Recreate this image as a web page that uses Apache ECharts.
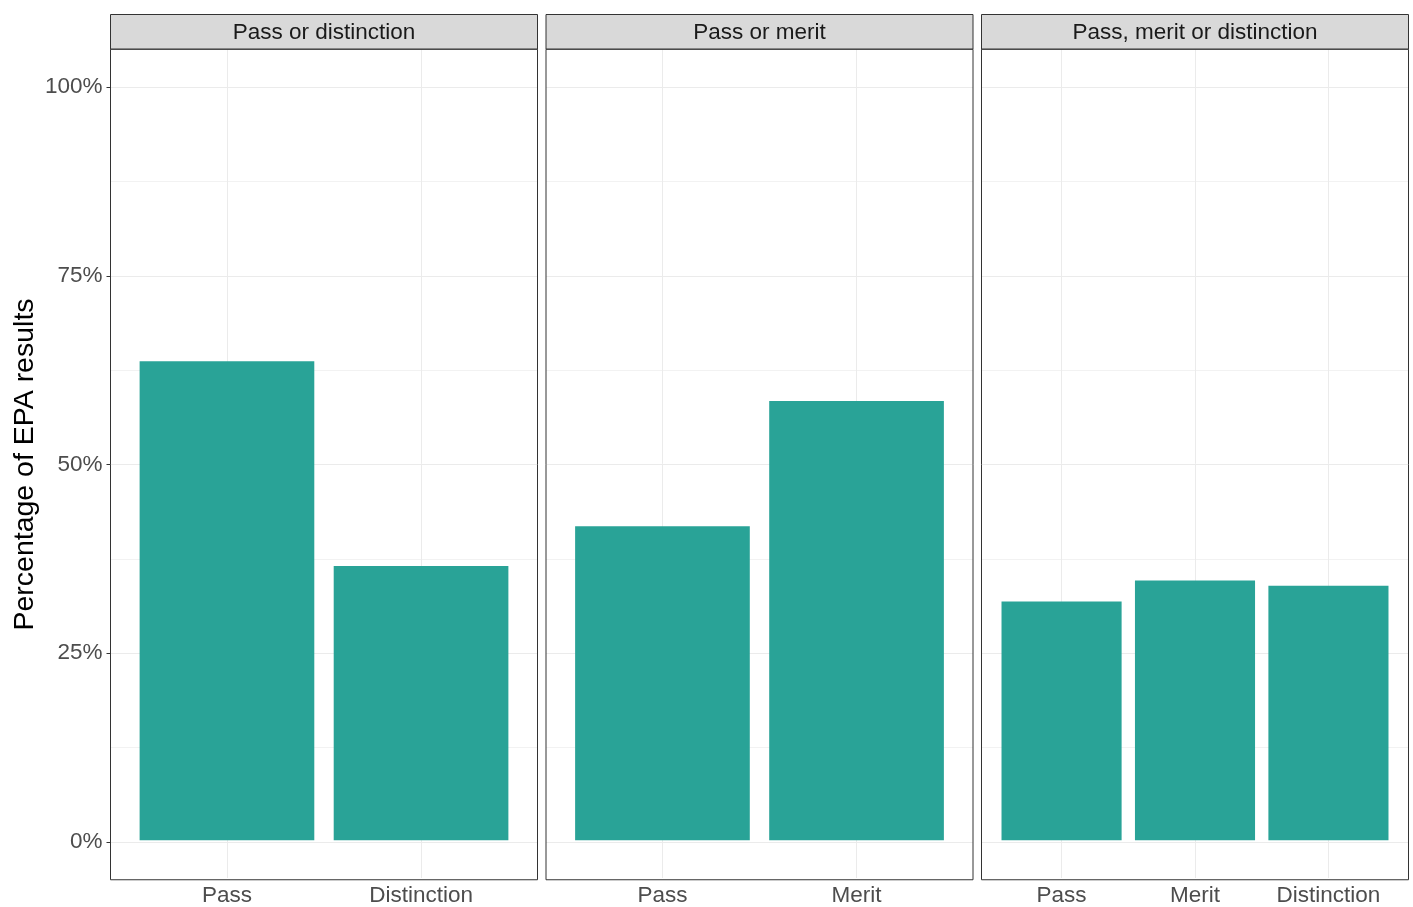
<!DOCTYPE html>
<html><head><meta charset="utf-8">
<script src="https://cdn.jsdelivr.net/npm/echarts@6/dist/echarts.min.js"></script>
<style>html,body{margin:0;padding:0;background:#fff}#c{width:1413px;height:907px}</style>
</head><body><div id="c"></div>
<script>
// ---- data ----
const facetTitles = ['Pass or distinction', 'Pass or merit', 'Pass, merit or distinction'];
const categoriesPD = ['Pass', 'Distinction'];
const valuesPD = [63.6, 36.4];
const categoriesPM = ['Pass', 'Merit'];
const valuesPM = [41.7, 58.3];
const categoriesPMD = ['Pass', 'Merit', 'Distinction'];
const valuesPMD = [31.7, 34.5, 33.8];
const yTickStep = 25;
const yTitle = 'Percentage of EPA results';

const panels = [
  { title: facetTitles[0], cats: categoriesPD, vals: valuesPD },
  { title: facetTitles[1], cats: categoriesPM, vals: valuesPM },
  { title: facetTitles[2], cats: categoriesPMD, vals: valuesPMD }
];

// ---- layout ----
const FONT = '"Liberation Sans", Arial, sans-serif';
const L = 110.5, GAP = 8.5, W = 427;
const PT = 49.25, PB = 879.75;   // panel top / bottom (ggplot expansion area)
const Y100 = 87, Y0 = 842;       // 100% and 0% lines
const STRIP_TOP = 14.5;
const BAR = '#29A397';

const grid = [], xAxis = [], yAxis = [], series = [], graphic = [];

panels.forEach((p, i) => {
  const x0 = L + i * (W + GAP);
  const n = p.cats.length;
  const unit = W / (n + 0.2);
  const inset = 0.1 * unit;
  grid.push({ left: x0, top: Y100, width: W, height: Y0 - Y100 });
  grid.push({ left: x0 + inset, top: PT, width: W - 2 * inset, height: PB - PT });

  xAxis.push({ gridIndex: 2 * i, type: 'value', min: 0, max: 1, show: false });
  xAxis.push({
    gridIndex: 2 * i + 1, type: 'category', data: p.cats, boundaryGap: true, position: 'bottom',
    axisLine: { show: false },
    axisTick: { show: true, alignWithLabel: true, length: 4, lineStyle: { color: '#333333', width: 1 } },
    axisLabel: { color: '#4D4D4D', fontSize: 22.5, fontFamily: FONT, margin: 6, interval: 0 },
    splitLine: { show: false }
  });

  const yA = {
    gridIndex: 2 * i, type: 'value', min: 0, max: 100, interval: yTickStep,
    axisLine: { show: false },
    axisTick: { show: i === 0, length: 4, lineStyle: { color: '#333333', width: 1 } },
    axisLabel: { show: i === 0, formatter: '{value}%', color: '#4D4D4D', fontSize: 22.5, fontFamily: FONT, margin: 8, verticalAlign: 'middle', padding: [3, 0, 0, 0] },
    splitLine: { show: true, lineStyle: { color: '#EBEBEB', width: 1 } },
    minorTick: { show: false, splitNumber: 2 },
    minorSplitLine: { show: true, lineStyle: { color: '#EFEFEF', width: 0.8 } }
  };
  if (i === 0) {
    yA.name = yTitle;
    yA.nameLocation = 'middle';
    yA.nameRotate = 90;
    yA.nameGap = 71;
    yA.nameTextStyle = { color: '#000000', fontSize: 28.5, fontFamily: FONT };
  }
  yAxis.push(yA);
  yAxis.push({ gridIndex: 2 * i + 1, type: 'value', min: -5, max: 105, show: false });

  series.push({
    type: 'bar', xAxisIndex: 2 * i + 1, yAxisIndex: 2 * i + 1,
    data: p.vals, barWidth: '90%', z: 3,
    itemStyle: { color: BAR },
    emphasis: { disabled: true },
    markLine: {
      silent: true, symbol: 'none', z: 1, animation: false,
      label: { show: false },
      lineStyle: { color: '#EBEBEB', width: 1, type: 'solid' },
      emphasis: { disabled: true },
      data: p.cats.map(c => ({ xAxis: c }))
    }
  });

  graphic.push({
    type: 'rect', z: 100, silent: true,
    shape: { x: x0, y: PT, width: W, height: PB - PT },
    style: { fill: 'none', stroke: '#333333', lineWidth: 1 }
  });
  graphic.push({
    type: 'rect', z: 100, silent: true,
    shape: { x: x0, y: STRIP_TOP, width: W, height: PT - STRIP_TOP - 0.25 },
    style: { fill: '#D9D9D9', stroke: '#333333', lineWidth: 1 }
  });
  graphic.push({
    type: 'text', z: 101, silent: true,
    style: {
      text: p.title, x: x0 + W / 2, y: (STRIP_TOP + PT) / 2 + 0.5,
      textAlign: 'center', textVerticalAlign: 'middle',
      fontSize: 22.5, fontFamily: FONT, fill: '#1A1A1A'
    }
  });
});

const chart = echarts.init(document.getElementById('c'), null, { renderer: 'canvas' });
chart.setOption({
  animation: false,
  backgroundColor: '#FFFFFF',
  grid, xAxis, yAxis, series, graphic
});
</script>
</body></html>
